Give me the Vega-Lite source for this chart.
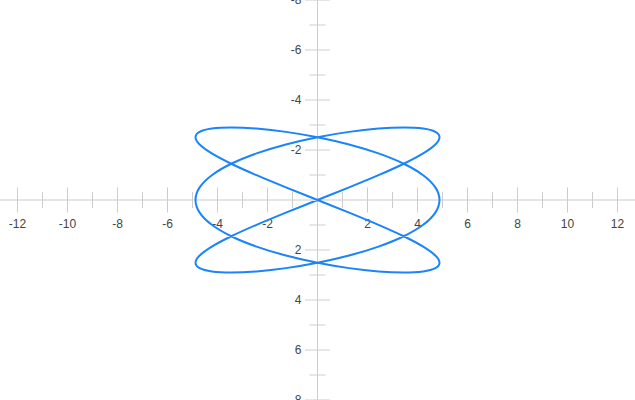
{
  "$schema": "https://vega.github.io/schema/vega-lite/v6.json",
  "width": 635,
  "height": 400,
  "padding": 0,
  "autosize": {"type": "none"},
  "background": "white",
  "config": {"view": {"stroke": null}},
  "datasets": {
    "curve": [
      {"i": 0, "x": 4.88, "y": 0},
      {"i": 1, "x": 4.7137, "y": 0.5036},
      {"i": 2, "x": 4.2262, "y": 0.9919},
      {"i": 3, "x": 3.4507, "y": 1.45},
      {"i": 4, "x": 2.44, "y": 1.8641},
      {"i": 5, "x": 1.263, "y": 2.2215},
      {"i": 6, "x": 0, "y": 2.5115},
      {"i": 7, "x": -1.263, "y": 2.7251},
      {"i": 8, "x": -2.44, "y": 2.8559},
      {"i": 9, "x": -3.4507, "y": 2.9},
      {"i": 10, "x": -4.2262, "y": 2.8559},
      {"i": 11, "x": -4.7137, "y": 2.7251},
      {"i": 12, "x": -4.88, "y": 2.5115},
      {"i": 13, "x": -4.7137, "y": 2.2215},
      {"i": 14, "x": -4.2262, "y": 1.8641},
      {"i": 15, "x": -3.4507, "y": 1.45},
      {"i": 16, "x": -2.44, "y": 0.9919},
      {"i": 17, "x": -1.263, "y": 0.5036},
      {"i": 18, "x": 0, "y": 0},
      {"i": 19, "x": 1.263, "y": -0.5036},
      {"i": 20, "x": 2.44, "y": -0.9919},
      {"i": 21, "x": 3.4507, "y": -1.45},
      {"i": 22, "x": 4.2262, "y": -1.8641},
      {"i": 23, "x": 4.7137, "y": -2.2215},
      {"i": 24, "x": 4.88, "y": -2.5115},
      {"i": 25, "x": 4.7137, "y": -2.7251},
      {"i": 26, "x": 4.2262, "y": -2.8559},
      {"i": 27, "x": 3.4507, "y": -2.9},
      {"i": 28, "x": 2.44, "y": -2.8559},
      {"i": 29, "x": 1.263, "y": -2.7251},
      {"i": 30, "x": 0, "y": -2.5115},
      {"i": 31, "x": -1.263, "y": -2.2215},
      {"i": 32, "x": -2.44, "y": -1.8641},
      {"i": 33, "x": -3.4507, "y": -1.45},
      {"i": 34, "x": -4.2262, "y": -0.9919},
      {"i": 35, "x": -4.7137, "y": -0.5036},
      {"i": 36, "x": -4.88, "y": 0},
      {"i": 37, "x": -4.7137, "y": 0.5036},
      {"i": 38, "x": -4.2262, "y": 0.9919},
      {"i": 39, "x": -3.4507, "y": 1.45},
      {"i": 40, "x": -2.44, "y": 1.8641},
      {"i": 41, "x": -1.263, "y": 2.2215},
      {"i": 42, "x": 0, "y": 2.5115},
      {"i": 43, "x": 1.263, "y": 2.7251},
      {"i": 44, "x": 2.44, "y": 2.8559},
      {"i": 45, "x": 3.4507, "y": 2.9},
      {"i": 46, "x": 4.2262, "y": 2.8559},
      {"i": 47, "x": 4.7137, "y": 2.7251},
      {"i": 48, "x": 4.88, "y": 2.5115},
      {"i": 49, "x": 4.7137, "y": 2.2215},
      {"i": 50, "x": 4.2262, "y": 1.8641},
      {"i": 51, "x": 3.4507, "y": 1.45},
      {"i": 52, "x": 2.44, "y": 0.9919},
      {"i": 53, "x": 1.263, "y": 0.5036},
      {"i": 54, "x": 0, "y": 0},
      {"i": 55, "x": -1.263, "y": -0.5036},
      {"i": 56, "x": -2.44, "y": -0.9919},
      {"i": 57, "x": -3.4507, "y": -1.45},
      {"i": 58, "x": -4.2262, "y": -1.8641},
      {"i": 59, "x": -4.7137, "y": -2.2215},
      {"i": 60, "x": -4.88, "y": -2.5115},
      {"i": 61, "x": -4.7137, "y": -2.7251},
      {"i": 62, "x": -4.2262, "y": -2.8559},
      {"i": 63, "x": -3.4507, "y": -2.9},
      {"i": 64, "x": -2.44, "y": -2.8559},
      {"i": 65, "x": -1.263, "y": -2.7251},
      {"i": 66, "x": 0, "y": -2.5115},
      {"i": 67, "x": 1.263, "y": -2.2215},
      {"i": 68, "x": 2.44, "y": -1.8641},
      {"i": 69, "x": 3.4507, "y": -1.45},
      {"i": 70, "x": 4.2262, "y": -0.9919},
      {"i": 71, "x": 4.7137, "y": -0.5036}
    ],
    "origin": [{"v": 0}],
    "xMajor": [
      {"v": -12, "label": "-12"}, {"v": -10, "label": "-10"}, {"v": -8, "label": "-8"}, {"v": -6, "label": "-6"},
      {"v": -4, "label": "-4"}, {"v": -2, "label": "-2"}, {"v": 2, "label": "2"}, {"v": 4, "label": "4"},
      {"v": 6, "label": "6"}, {"v": 8, "label": "8"}, {"v": 10, "label": "10"}, {"v": 12, "label": "12"}
    ],
    "xMinor": [{"v": -11}, {"v": -9}, {"v": -7}, {"v": -5}, {"v": -3}, {"v": -1}, {"v": 1}, {"v": 3}, {"v": 5}, {"v": 7}, {"v": 9}, {"v": 11}],
    "yMajor": [
      {"v": -8, "label": "-8"}, {"v": -6, "label": "-6"}, {"v": -4, "label": "-4"}, {"v": -2, "label": "-2"},
      {"v": 2, "label": "2"}, {"v": 4, "label": "4"}, {"v": 6, "label": "6"}, {"v": 8, "label": "8"}
    ],
    "yMinor": [{"v": -7}, {"v": -5}, {"v": -3}, {"v": -1}, {"v": 1}, {"v": 3}, {"v": 5}, {"v": 7}]
  },
  "layer": [
    {
      "data": {"name": "curve"},
      "mark": {"type": "point", "opacity": 0},
      "encoding": {
        "x": {"field": "x", "type": "quantitative",
          "scale": {"domain": [-12.7, 12.7], "nice": false, "zero": false},
          "axis": {"title": null, "domain": false, "ticks": false, "labels": false, "grid": true, "gridColor": "#e6e6e6", "gridWidth": 1, "values": [-12, -10, -8, -6, -4, -2, 2, 4, 6, 8, 10, 12]}},
        "y": {"field": "y", "type": "quantitative",
          "scale": {"domain": [-8, 8], "nice": false, "zero": false, "reverse": true},
          "axis": {"title": null, "domain": false, "ticks": false, "labels": false, "grid": true, "gridColor": "#e6e6e6", "gridWidth": 1, "values": [-8, -6, -4, -2, 2, 4, 6, 8]}}
      }
    },
    {
      "data": {"name": "origin"},
      "mark": {"type": "rule", "color": "#cccccc", "strokeWidth": 1},
      "encoding": {"x": {"field": "v", "type": "quantitative", "axis": null}}
    },
    {
      "data": {"name": "origin"},
      "mark": {"type": "rule", "color": "#cccccc", "strokeWidth": 1},
      "encoding": {"y": {"field": "v", "type": "quantitative", "axis": null}}
    },
    {
      "data": {"name": "xMinor"},
      "mark": {"type": "tick", "orient": "vertical", "size": 16, "thickness": 1, "color": "#cccccc", "opacity": 1},
      "encoding": {"x": {"field": "v", "type": "quantitative", "axis": null}, "y": {"datum": 0, "type": "quantitative", "axis": null}}
    },
    {
      "data": {"name": "xMajor"},
      "mark": {"type": "tick", "orient": "vertical", "size": 25, "thickness": 1, "color": "#cccccc", "opacity": 1},
      "encoding": {"x": {"field": "v", "type": "quantitative", "axis": null}, "y": {"datum": 0, "type": "quantitative", "axis": null}}
    },
    {
      "data": {"name": "yMinor"},
      "mark": {"type": "tick", "orient": "horizontal", "size": 16, "thickness": 1, "color": "#cccccc", "opacity": 1},
      "encoding": {"y": {"field": "v", "type": "quantitative", "axis": null}, "x": {"datum": 0, "type": "quantitative", "axis": null}}
    },
    {
      "data": {"name": "yMajor"},
      "mark": {"type": "tick", "orient": "horizontal", "size": 25, "thickness": 1, "color": "#cccccc", "opacity": 1},
      "encoding": {"y": {"field": "v", "type": "quantitative", "axis": null}, "x": {"datum": 0, "type": "quantitative", "axis": null}}
    },
    {
      "data": {"name": "xMajor"},
      "mark": {"type": "text", "font": "Liberation Sans", "fontSize": 12, "color": "#444444", "align": "center", "baseline": "alphabetic", "dy": 28},
      "encoding": {"x": {"field": "v", "type": "quantitative", "axis": null}, "y": {"datum": 0, "type": "quantitative", "axis": null}, "text": {"field": "label", "type": "nominal"}}
    },
    {
      "data": {"name": "yMajor"},
      "mark": {"type": "text", "font": "Liberation Sans", "fontSize": 12, "color": "#444444", "align": "right", "baseline": "alphabetic", "dx": -16, "dy": 3.8},
      "encoding": {"y": {"field": "v", "type": "quantitative", "axis": null}, "x": {"datum": 0, "type": "quantitative", "axis": null}, "text": {"field": "label", "type": "nominal"}}
    },
    {
      "data": {"name": "curve"},
      "mark": {"type": "line", "interpolate": "cardinal-closed", "tension": 0, "color": "#1a84f8", "strokeWidth": 2},
      "encoding": {
        "x": {"field": "x", "type": "quantitative", "axis": null},
        "y": {"field": "y", "type": "quantitative", "axis": null},
        "order": {"field": "i", "type": "quantitative"}
      }
    }
  ]
}
